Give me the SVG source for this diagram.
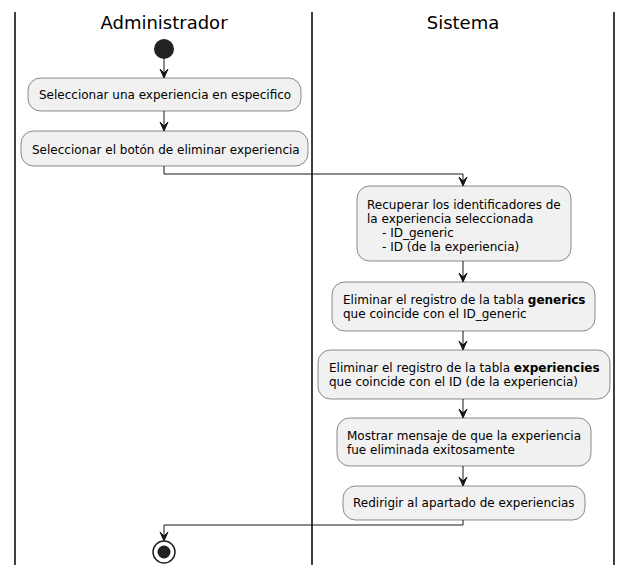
<svg xmlns="http://www.w3.org/2000/svg" width="632" height="573" viewBox="0 0 632 573">
<style>
.lane{stroke:#000;stroke-width:1.5;fill:none}
.title{font-family:"DejaVu Sans",sans-serif;font-size:18px;fill:#000;text-anchor:middle}
.box{fill:#F1F1F1;stroke:#181818;stroke-width:0.5}
.t{font-family:"DejaVu Sans",sans-serif;font-size:12px;fill:#000}
.b{font-weight:bold}
.c{stroke:#181818;stroke-width:1;fill:none}
.ah{fill:#181818;stroke:#181818;stroke-width:1}
</style>
<defs>
<path id="arr" d="M0,0 L-4,-9 L0,-5 L4,-9 Z"/>
</defs>
<g id="lanes">
<line class="lane" x1="15" y1="12" x2="15" y2="565"/>
<line class="lane" x1="312" y1="12" x2="312" y2="565"/>
<line class="lane" x1="614" y1="12" x2="614" y2="565"/>
<text class="title" x="164" y="29">Administrador</text>
<text class="title" x="463" y="29">Sistema</text>
</g>
<g id="connectors">
<line class="c" x1="164" y1="59" x2="164" y2="77"/>
<use href="#arr" class="ah" x="164" y="78"/>
<line class="c" x1="164" y1="111" x2="164" y2="130"/>
<use href="#arr" class="ah" x="164" y="131"/>
<polyline class="c" points="164,166 164,174 463,174 463,185"/>
<use href="#arr" class="ah" x="463" y="186"/>
<line class="c" x1="463" y1="261" x2="463" y2="281"/>
<use href="#arr" class="ah" x="463" y="282"/>
<line class="c" x1="463" y1="331" x2="463" y2="349"/>
<use href="#arr" class="ah" x="463" y="350"/>
<line class="c" x1="463" y1="399" x2="463" y2="417"/>
<use href="#arr" class="ah" x="463" y="418"/>
<line class="c" x1="463" y1="466" x2="463" y2="485"/>
<use href="#arr" class="ah" x="463" y="486"/>
<polyline class="c" points="463,520 463,525 164,525 164,540"/>
<use href="#arr" class="ah" x="164" y="541"/>
</g>
<g id="start">
<circle cx="164" cy="49" r="10" fill="#222222"/>
</g>
<g id="n1">
<rect class="box" x="28" y="78" width="273" height="33" rx="12.5"/>
<text class="t" x="39" y="99">Seleccionar una experiencia en especifico</text>
</g>
<g id="n2">
<rect class="box" x="21" y="131" width="287" height="35" rx="12.5"/>
<text class="t" x="32" y="154">Seleccionar el botón de eliminar experiencia</text>
</g>
<g id="n3">
<rect class="box" x="357" y="186" width="214" height="75" rx="12.5"/>
<text class="t" x="367" y="209">Recuperar los identificadores de</text>
<text class="t" x="367" y="223">la experiencia seleccionada</text>
<text class="t" x="382" y="237">- ID_generic</text>
<text class="t" x="382" y="251">- ID (de la experiencia)</text>
</g>
<g id="n4">
<rect class="box" x="332" y="282" width="263" height="49" rx="12.5"/>
<text class="t" x="343" y="304">Eliminar el registro de la tabla <tspan class="b">generics</tspan></text>
<text class="t" x="343" y="318">que coincide con el ID_generic</text>
</g>
<g id="n5">
<rect class="box" x="318" y="350" width="292" height="49" rx="12.5"/>
<text class="t" x="329" y="372">Eliminar el registro de la tabla <tspan class="b">experiencies</tspan></text>
<text class="t" x="329" y="386">que coincide con el ID (de la experiencia)</text>
</g>
<g id="n6">
<rect class="box" x="337" y="418" width="254" height="48" rx="12.5"/>
<text class="t" x="347" y="440">Mostrar mensaje de que la experiencia</text>
<text class="t" x="347" y="454">fue eliminada exitosamente</text>
</g>
<g id="n7">
<rect class="box" x="343" y="486" width="242" height="34" rx="12.5"/>
<text class="t" x="353" y="507">Redirigir al apartado de experiencias</text>
</g>
<g id="end">
<circle cx="164" cy="552" r="11" fill="none" stroke="#222222" stroke-width="1.5"/>
<circle cx="164" cy="552" r="6.5" fill="#222222"/>
</g>
</svg>
